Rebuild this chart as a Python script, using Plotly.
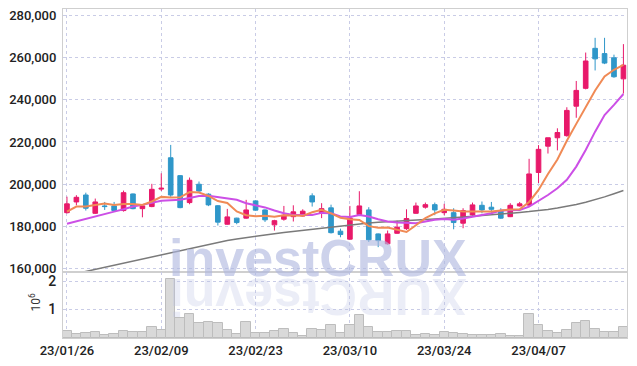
import plotly.graph_objects as go

dates = ["23/01/26","23/01/27","23/01/30","23/01/31",
         "23/02/01","23/02/02","23/02/03","23/02/06","23/02/07","23/02/08","23/02/09","23/02/10",
         "23/02/13","23/02/14","23/02/15","23/02/16","23/02/17","23/02/20","23/02/21","23/02/22",
         "23/02/23","23/02/24","23/02/27","23/02/28",
         "23/03/02","23/03/03","23/03/06","23/03/07","23/03/08","23/03/09","23/03/10","23/03/13",
         "23/03/14","23/03/15","23/03/16","23/03/17","23/03/20","23/03/21","23/03/22","23/03/23",
         "23/03/24","23/03/27","23/03/28","23/03/29","23/03/30","23/03/31",
         "23/04/03","23/04/04","23/04/05","23/04/06","23/04/07","23/04/10","23/04/11","23/04/12",
         "23/04/13","23/04/14","23/04/17","23/04/18","23/04/19","23/04/20"]

open_ = [186400,191500,194800,186100,189600,189600,187400,195300,188300,189300,
         197600,212500,204000,191200,199900,195200,189700,180900,183800,183800,
         192000,187700,180600,183300,184500,184800,194400,186400,188700,177600,
         173800,185500,187700,176300,171600,176600,178800,186100,189000,190200,
         186400,186400,181400,185300,189900,189000,187400,184500,189600,190000,
         205500,218000,222000,223000,237000,245500,264500,262000,260000,250000]
high_ = [194000,194700,195900,193100,191500,191500,196900,195500,190000,200100,
         205100,218600,204300,203100,201200,195600,190000,188200,184000,192500,
         192300,188000,183000,189600,189900,188000,195600,190900,190200,178800,
         189600,196600,189000,176500,177900,182600,188000,191200,191200,191200,
         190600,188500,188500,191200,191700,191500,188500,190900,191500,212000,
         218500,222000,226500,236500,249000,262500,269500,269500,261500,266500]
low_ = [186000,189900,187400,185800,187700,187200,186900,188000,184200,189000,
        196700,193900,188500,190400,195800,189500,180300,180700,180900,183500,
        187300,182000,177900,182600,182200,184500,189300,183800,176500,174700,
        173500,185200,172500,170000,171200,176400,178200,185900,188300,185200,
        185200,178500,179000,185000,186100,186100,183500,184300,189300,189500,
        200500,214500,216000,222500,231500,245000,254000,257000,250500,243000]
close_ = [190600,193700,188500,191500,189300,187400,195900,188300,189600,197500,
          198000,194800,188800,201800,196700,190100,181900,184400,181700,187700,
          187600,183000,182600,185200,186800,187100,191500,188300,176900,176000,
          183900,189600,173500,173100,176300,179500,183600,189600,190200,187700,
          188000,181700,187400,190100,187700,188000,183800,189900,190600,204800,
          216500,222000,224500,235000,244500,258500,259500,257500,251000,256500]

ma5 = [186900,189300,189300,190100,190700,190100,190500,190500,190100,191700,
       193900,193600,193700,196200,196000,194400,191900,191000,187000,185200,
       184700,184900,184500,185200,185000,184900,186600,187800,186100,184000,
       183300,182900,180000,179200,179300,178400,177200,180400,183800,186100,
       187800,187400,187000,187000,187000,187000,187400,187900,188000,191400,
       197200,204800,211700,220600,228600,236900,244500,251100,254300,256600]
ma20 = [181100,182300,183600,184800,185800,186900,188000,189300,190100,191200,
        192100,192300,192500,193400,194300,194400,193800,193100,192500,190900,
        189800,188900,187400,186100,185300,185300,185300,186300,186100,184600,
        184400,185300,184600,183300,182200,181700,181400,181400,182200,183000,
        183400,183000,183600,184500,185300,186100,187400,187700,187700,189300,
        192000,194800,198000,202000,208300,216200,224900,232800,237600,242800]
ma60 = [156500,157500,158500,159500,160500,161500,162500,163500,164500,165500,
        166500,167500,168500,169400,170400,171400,172400,173200,173900,174600,
        175300,175900,176400,177000,177500,178100,178600,179200,179700,180200,
        180800,181200,181500,181800,182000,182300,182600,182800,183100,183400,
        183600,183900,184300,184700,185000,185400,185800,186200,186500,186900,
        187300,187900,188600,189300,190300,191400,192500,193900,195400,196900]
volume = [260000,150000,190000,220000,120000,150000,260000,200000,220000,400000,
          290000,2090000,720000,860000,540000,580000,540000,290000,150000,580000,
          190000,190000,260000,330000,190000,80000,330000,290000,470000,190000,
          470000,820000,400000,220000,220000,250000,260000,120000,150000,120000,
          220000,190000,150000,120000,120000,120000,150000,80000,80000,860000,
          470000,260000,190000,290000,510000,610000,330000,220000,220000,400000]

price_ticks = [160000, 180000, 200000, 220000, 240000, 260000, 280000]
vol_ticks = [1000000, 2000000]
vol_tick_text = ["1", "2"]
x_ticks = dates[::10]

UP = "#e8196a"
DOWN = "#2f97c9"
GRID = "#c9cce6"
BORDER = "#cfcfcf"
FAM = "Roboto, Liberation Sans, sans-serif"
TICKFONT = dict(family=FAM, size=13, color="#222222", weight=500)

fig = go.Figure()

fig.add_trace(go.Scatter(x=dates, y=ma60, mode="lines", line=dict(color="#7a7a7a", width=1.5),
                         xaxis="x", yaxis="y", hoverinfo="skip", showlegend=False))
fig.add_trace(go.Scatter(x=dates, y=ma20, mode="lines", line=dict(color="#cc4fe6", width=2),
                         xaxis="x", yaxis="y", hoverinfo="skip", showlegend=False))
fig.add_trace(go.Candlestick(x=dates, open=open_, high=high_, low=low_, close=close_,
                             increasing=dict(line=dict(color=UP, width=1), fillcolor=UP),
                             decreasing=dict(line=dict(color=DOWN, width=1), fillcolor=DOWN),
                             xaxis="x", yaxis="y", showlegend=False))
fig.add_trace(go.Scatter(x=dates, y=ma5, mode="lines", line=dict(color="#f08a55", width=2),
                         xaxis="x", yaxis="y", hoverinfo="skip", showlegend=False))
fig.add_trace(go.Bar(x=dates, y=volume, marker=dict(color="#d9d9d9", line=dict(color="#bdbdbd", width=1)),
                     xaxis="x2", yaxis="y2", showlegend=False))

split = 66 / 329
fig.update_layout(
    width=637, height=366,
    margin=dict(l=63, r=10, t=9, b=28),
    paper_bgcolor="white", plot_bgcolor="white",
    bargap=0,
    showlegend=False,
    xaxis=dict(type="category", range=[-0.42, 59.38], domain=[0, 1], anchor="y", automargin=False,
               showticklabels=False, rangeslider=dict(visible=False),
               tickvals=x_ticks, showgrid=True, gridcolor=GRID, griddash="dot", gridwidth=1,
               showline=True, linecolor=BORDER, mirror=True, zeroline=False),
    yaxis=dict(domain=[split, 1], range=[158200, 283200], tickvals=price_ticks, tickformat=",d",
               automargin=False,
               showgrid=True, gridcolor=GRID, griddash="dot", gridwidth=1,
               showline=True, linecolor=BORDER, mirror=True, zeroline=False,
               tickfont=TICKFONT, ticks="outside", ticklen=3, tickcolor="rgba(0,0,0,0)"),
    xaxis2=dict(type="category", range=[-0.42, 59.38], domain=[0, 1], anchor="y2", matches="x",
                automargin=False,
                tickvals=x_ticks, ticktext=x_ticks, showgrid=True, gridcolor=GRID, griddash="dot",
                showline=True, linecolor=BORDER, mirror=True, zeroline=False,
                tickfont=TICKFONT, tickangle=0, ticks=""),
    yaxis2=dict(domain=[0, split], range=[0, 2320000], tickvals=vol_ticks, ticktext=vol_tick_text,
                automargin=False,
                showgrid=True, gridcolor=GRID, griddash="dot",
                showline=True, linecolor=BORDER, mirror=True, zeroline=False,
                tickfont=dict(family=FAM, size=14, color="#222222", weight=500),
                ticks="outside", ticklen=3, tickcolor="rgba(0,0,0,0)"),
    annotations=[
        dict(text="10<sup>6</sup>", xref="paper", yref="paper", x=-0.05, y=0.11,
             xanchor="center", yanchor="middle",
             textangle=-90, showarrow=False, font=dict(family=FAM, size=12, color="#333")),
        dict(text="investCRUX", xref="paper", yref="paper", x=0.452, y=0.243,
             xanchor="center", yanchor="middle", showarrow=False,
             font=dict(family="Liberation Sans, Arial, sans-serif", size=52,
                       color="rgba(175,182,222,0.62)", weight=700)),
        dict(text="XURCtsevni", xref="paper", yref="paper", x=0.452, y=0.125,
             xanchor="center", yanchor="middle", showarrow=False, textangle=180,
             font=dict(family="Liberation Sans, Arial, sans-serif", size=52,
                       color="rgba(190,196,228,0.3)", weight=700)),
    ],
)

fig.write_html("out.html", config={"displayModeBar": False},
               post_script="document.body.style.margin='0';document.body.style.padding='0';")
